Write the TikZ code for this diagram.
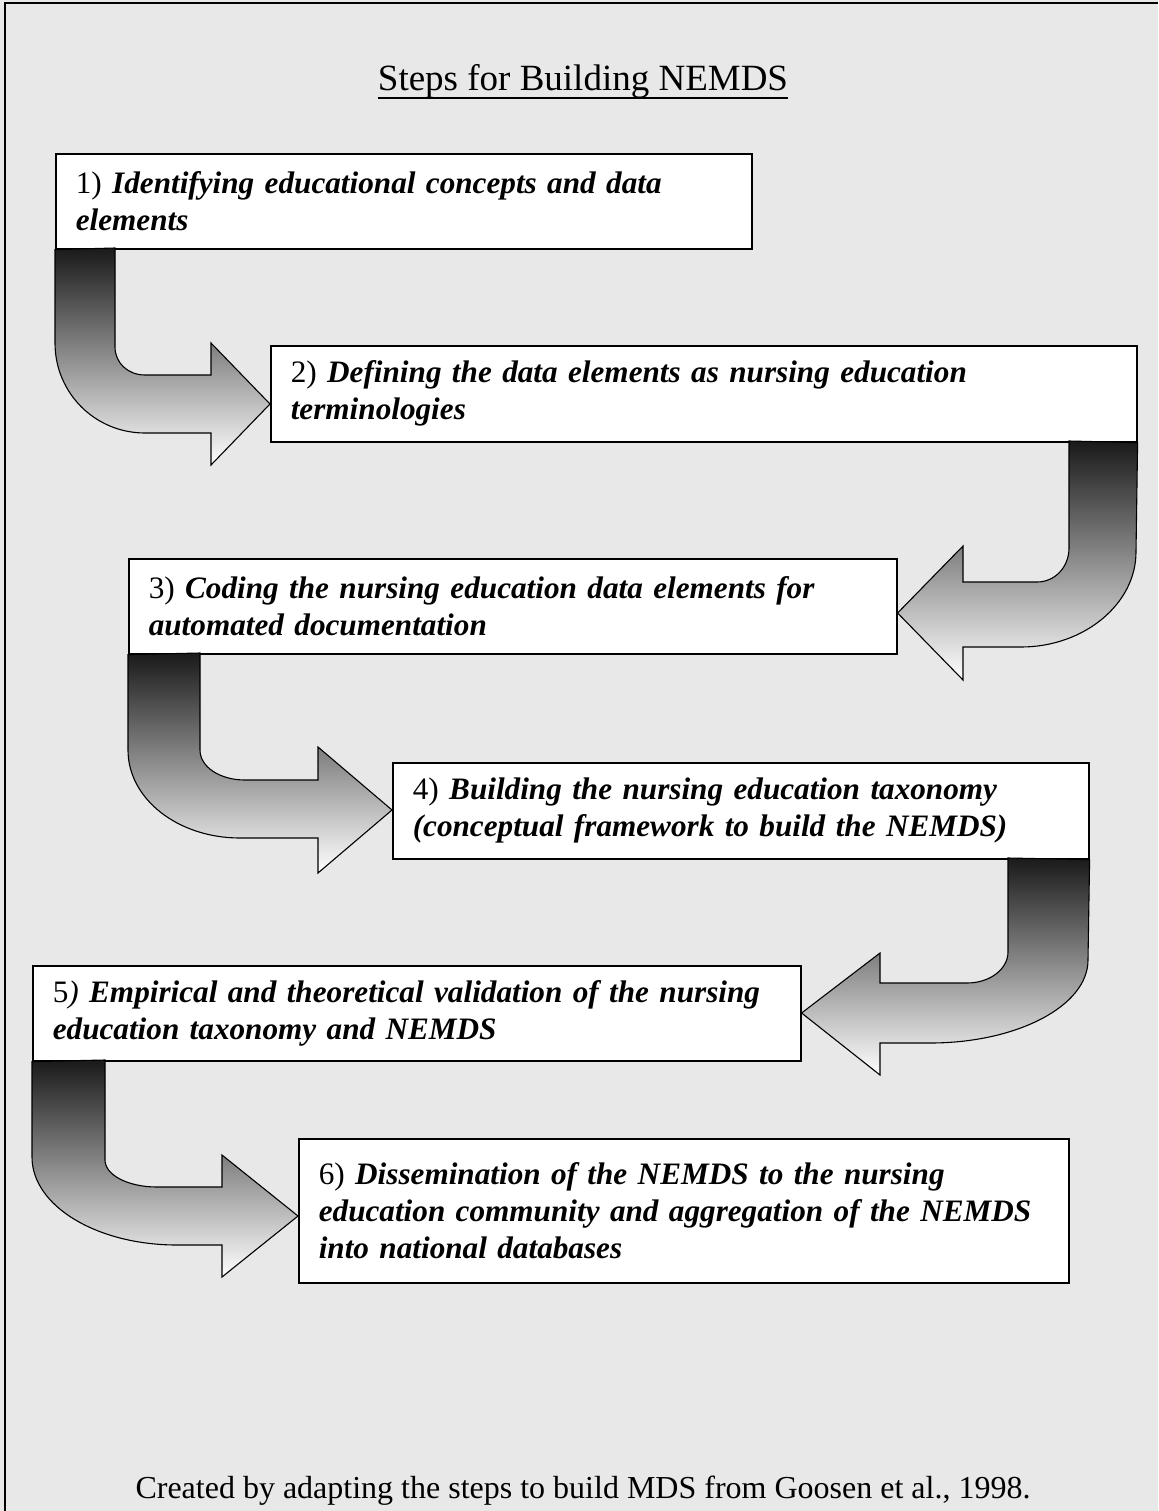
\documentclass[tikz,border=0pt]{standalone}
\usepackage{fontspec}
\setmainfont{Liberation Serif}
\usetikzlibrary{calc}
\newcommand{\stepbi}[1]{\textbf{\textit{#1}}}
\begin{document}
\begin{tikzpicture}[x=0.5pt,y=-0.5pt,
  stepbox/.style={draw=black, line width=0.8pt, fill=white, anchor=north west,
    align=left, inner xsep=10pt, inner ysep=3pt,
    font=\fontsize{15.6}{18.5}\selectfont},
  bentarrow/.style={draw=black, line width=0.55pt, top color=black!90, bottom color=white},
  frameline/.style={draw=black, line width=1pt}
  ]
\useasboundingbox (0,0) rectangle (1158,1511);
\fill[black!9] (0,0) rectangle (1158,1511);
\draw[frameline] (4.5,1511) -- (4.5,3) -- (1158,3);

\node[anchor=base, inner sep=0pt, font=\fontsize{18.5}{22}\selectfont] (title) at (583,90) {Steps for Building NEMDS};
\draw[line width=1pt] ($(title.base west)+(0,8)$) -- ($(title.base east)+(0,8)$);

\node[stepbox, minimum width=348pt, minimum height=47.5pt, text width=328pt] (b1) at (55,153)
  {1) \stepbi{Identifying educational concepts and data}\\\stepbi{elements}};
\node[stepbox, minimum width=433pt, minimum height=48pt, text width=413pt] (b2) at (270,345)
  {2) \stepbi{Defining the data elements as nursing education}\\\stepbi{terminologies}};
\node[stepbox, minimum width=384pt, minimum height=47.5pt, text width=364pt] (b3) at (128,558)
  {3) \stepbi{Coding the nursing education data elements for}\\\stepbi{automated documentation}};
\node[stepbox, minimum width=348pt, minimum height=48pt, text width=328pt] (b4) at (392,762)
  {4) \stepbi{Building the nursing education taxonomy}\\\stepbi{(conceptual framework to build the NEMDS)}};
\node[stepbox, minimum width=384pt, minimum height=47.5pt, text width=364pt] (b5) at (32,965)
  {5\textit{)} \stepbi{Empirical and theoretical validation of the nursing}\\\stepbi{education taxonomy and NEMDS}};
\node[stepbox, minimum width=385pt, minimum height=72pt, text width=365pt] (b6) at (298,1138)
  {6) \stepbi{Dissemination of the NEMDS to the nursing}\\\stepbi{education community and aggregation of the NEMDS}\\\stepbi{into national databases}};

% bent block arrows
\path[bentarrow] (b1.south west) -- (55,343) .. controls (55,393) and (95,433) .. (145,433)
  -- (211,433) -- (211,465) -- (b2.west |- 0,404) -- (211,343) -- (211,375) -- (145,375)
  .. controls (128,375) and (115,363) .. (115,347) -- (115,248) -- cycle;
\path[bentarrow] (b2.south east) -- (1136,552) .. controls (1136,604) and (1084,647) .. (1021,647)
  -- (963,647) -- (963,680) -- (b3.east |- 0,613) -- (963,546) -- (963,582) -- (1037,582)
  .. controls (1055,582) and (1069,567) .. (1069,548) -- (1069,441) -- cycle;
\path[bentarrow] (b3.south west) -- (128,750) .. controls (128,799) and (178,838) .. (240,838)
  -- (318,838) -- (318,873) -- (b4.west |- 0,810) -- (318,747) -- (318,780) -- (245,780)
  .. controls (220,780) and (200,767) .. (200,750) -- (200,653) -- cycle;
\path[bentarrow] (b4.south east) -- (1088,960) .. controls (1088,1006) and (1017,1043) .. (930,1043)
  -- (880,1043) -- (880,1075) -- (b5.east |- 0,1013) -- (880,953) -- (880,983) -- (967,983)
  .. controls (990,983) and (1008,969) .. (1008,952) -- (1008,858) -- cycle;
\path[bentarrow] (b5.south west) -- (32,1157) .. controls (32,1206) and (97,1245) .. (177,1245)
  -- (222,1245) -- (222,1277) -- (b6.west |- 0,1216) -- (222,1155) -- (222,1187) -- (157,1187)
  .. controls (128,1187) and (105,1175) .. (105,1160) -- (105,1060) -- cycle;

\node[anchor=base, font=\fontsize{16}{19}\selectfont] (credit) at (583,1498)
  {Created by adapting the steps to build MDS from Goosen et al., 1998.};
\end{tikzpicture}
\end{document}
